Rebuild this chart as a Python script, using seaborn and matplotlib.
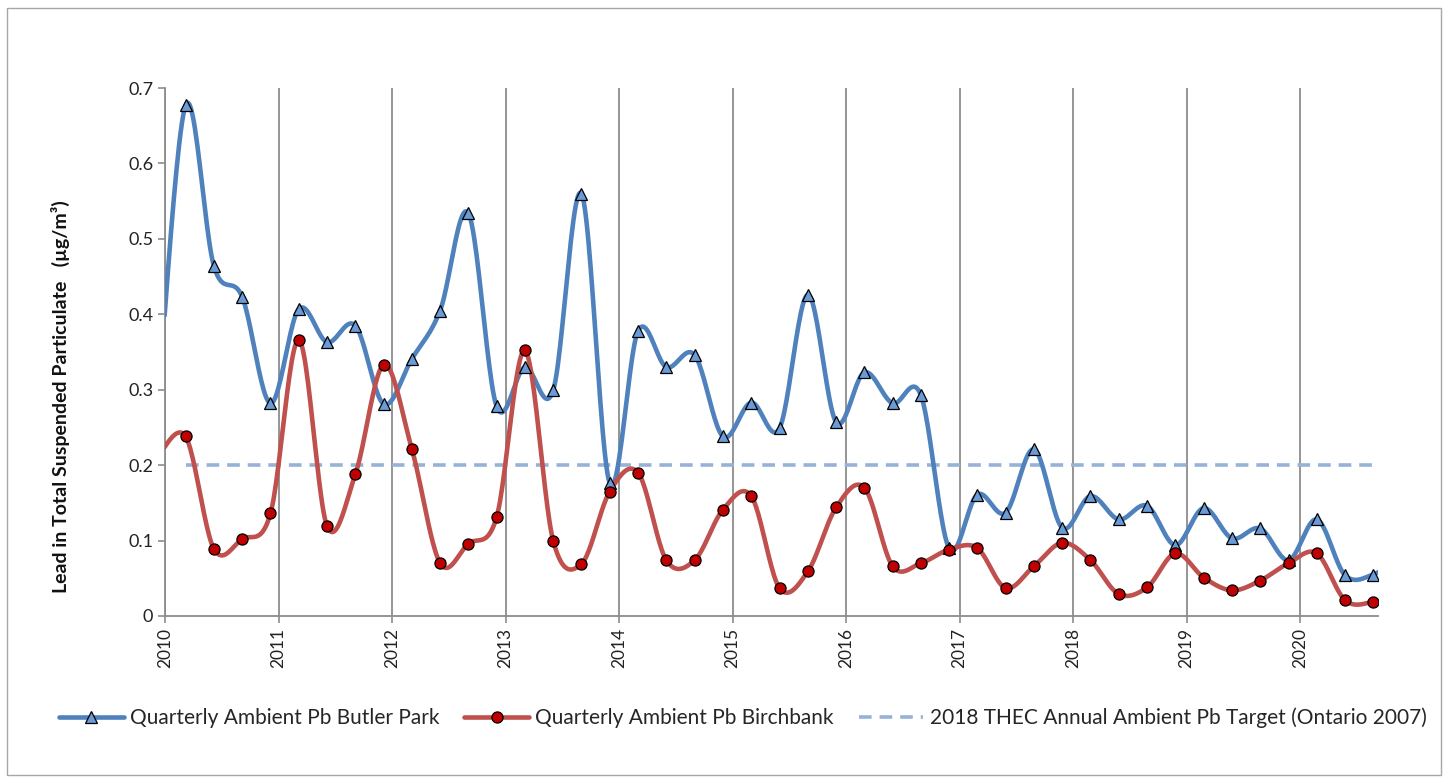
import numpy as np
import pandas as pd
import matplotlib
matplotlib.use("Agg")
import matplotlib.pyplot as plt
import seaborn as sns
from matplotlib.lines import Line2D
from matplotlib.patches import Rectangle

# quarterly sample dates (91 day spacing); first and last fall just outside the axis
dates = pd.date_range("2009-12-07", periods=45, freq="91D")

butler_park = [0.27,
               0.677, 0.464, 0.423, 0.282, 0.407, 0.363, 0.385, 0.281, 0.341, 0.405, 0.534, 0.278,
               0.330, 0.299, 0.560, 0.176, 0.378, 0.330, 0.346, 0.238, 0.283, 0.249, 0.426, 0.257,
               0.323, 0.282, 0.293, 0.090, 0.161, 0.137, 0.221, 0.117, 0.159, 0.128, 0.146, 0.094,
               0.143, 0.103, 0.116, 0.074, 0.128, 0.054, 0.055,
               0.08]
birchbank = [0.21,
             0.238, 0.089, 0.102, 0.136, 0.366, 0.119, 0.188, 0.333, 0.221, 0.070, 0.096, 0.131,
             0.352, 0.100, 0.069, 0.165, 0.190, 0.074, 0.074, 0.141, 0.159, 0.037, 0.059, 0.144,
             0.170, 0.066, 0.070, 0.088, 0.090, 0.037, 0.066, 0.097, 0.074, 0.029, 0.038, 0.083,
             0.051, 0.034, 0.047, 0.070, 0.083, 0.021, 0.019,
             0.035]
target = 0.2

years = list(range(2010, 2021))
labels = ["Quarterly Ambient Pb Butler Park",
          "Quarterly Ambient Pb Birchbank",
          "2018 THEC Annual Ambient Pb Target (Ontario 2007)"]

BLUE = "#4f81bd"
BLUE_FILL = "#6b9bd6"
RED = "#c0504d"
RED_FILL = "#c00000"
DASH = "#95b3d7"


def dec_year(d):
    d = pd.DatetimeIndex(d)
    ndays = np.where(d.is_leap_year, 366, 365)
    return d.year + (d.dayofyear - 1) / ndays


def smooth(x, y, n=24):
    """Excel style smoothed line (bezier through points)."""
    x = np.asarray(x, float)
    y = np.asarray(y, float)
    xs, ys = [], []
    t = np.linspace(0, 1, n, endpoint=False)[:, None]
    for i in range(len(x) - 1):
        a = max(i - 1, 0)
        b = min(i + 2, len(x) - 1)
        p0 = np.array([x[i], y[i]])
        p3 = np.array([x[i + 1], y[i + 1]])
        p1 = p0 + (np.array([x[i + 1], y[i + 1]]) - np.array([x[a], y[a]])) / 6
        p2 = p3 - (np.array([x[b], y[b]]) - np.array([x[i], y[i]])) / 6
        pts = ((1 - t) ** 3) * p0 + 3 * ((1 - t) ** 2) * t * p1 + 3 * (1 - t) * t ** 2 * p2 + t ** 3 * p3
        xs.extend(pts[:, 0])
        ys.extend(pts[:, 1])
    xs.append(x[-1])
    ys.append(y[-1])
    return np.array(xs), np.array(ys)


x = dec_year(dates)
df = pd.DataFrame({"x": x, "butler": butler_park, "birch": birchbank})
vis = df.iloc[1:-1]

sns.set_style("white")
plt.rcParams["font.family"] = ["Lato", "DejaVu Sans"]

fig = plt.figure(figsize=(14.48, 7.83), dpi=100)
ax = fig.add_axes([0.114, 0.2133, 0.8377, 0.6743])

bx, by = smooth(df["x"], df["butler"])
rx, ry = smooth(df["x"], df["birch"])
sns.lineplot(x=bx, y=by, ax=ax, color=BLUE, lw=3.3, sort=False, zorder=3)
sns.lineplot(x=rx, y=ry, ax=ax, color=RED, lw=3.3, sort=False, zorder=4)
sns.lineplot(x=vis["x"], y=[target] * len(vis), ax=ax, color=DASH, lw=2.6,
             linestyle=(0, (3.5, 2.2)), zorder=2)

ax.plot(vis["x"], vis["butler"], ls="none", marker="^", ms=8, mfc=BLUE_FILL,
        mec="black", mew=0.9, zorder=5)
ax.plot(vis["x"], vis["birch"], ls="none", marker="o", ms=8, mfc=RED_FILL,
        mec="black", mew=0.9, zorder=6)

ax.set_xlim(2010, 2020.687)
ax.set_ylim(0, 0.7)
ax.set_xticks(years)
ax.set_xticklabels([str(y) for y in years], rotation=90, fontsize=12.5)
ax.set_yticks(np.arange(0, 0.71, 0.1))
ax.set_yticklabels(["0"] + [f"{v:.1f}" for v in np.arange(0.1, 0.71, 0.1)], fontsize=13)
ax.grid(axis="x", color="#8c8c8c", lw=1.3)
ax.grid(axis="y", visible=False)
for s in ["top", "right"]:
    ax.spines[s].set_visible(False)
for s in ["left", "bottom"]:
    ax.spines[s].set_color("#8c8c8c")
    ax.spines[s].set_linewidth(1.3)
ax.tick_params(axis="both", which="major", direction="out", length=5, width=1.2,
               color="#8c8c8c", left=True, bottom=True, labelcolor="#222222")
ax.set_xlabel("")
ax.set_ylabel("Lead in Total Suspended Particulate   (µg/m³)", fontsize=14,
              fontweight="bold", color="#111111")
ax.yaxis.set_label_coords(-0.078, 0.415)

handles = [
    Line2D([], [], color=BLUE, lw=3.3, marker="^", ms=8, mfc=BLUE_FILL, mec="black", mew=0.9),
    Line2D([], [], color=RED, lw=3.3, marker="o", ms=8, mfc=RED_FILL, mec="black", mew=0.9),
    Line2D([], [], color=DASH, lw=2.6, linestyle=(0, (3.5, 2.2))),
]
fig.legend(handles, labels, loc="center", bbox_to_anchor=(0.513, 0.083), ncol=3,
           frameon=False, fontsize=15, handlelength=3.1, columnspacing=1.2,
           handletextpad=0.3)

fig.patches.append(Rectangle((0.005, 0.01), 0.99, 0.98, transform=fig.transFigure,
                             fill=False, ec="#a6a6a6", lw=1.0))

fig.savefig("out.png", dpi=100)
